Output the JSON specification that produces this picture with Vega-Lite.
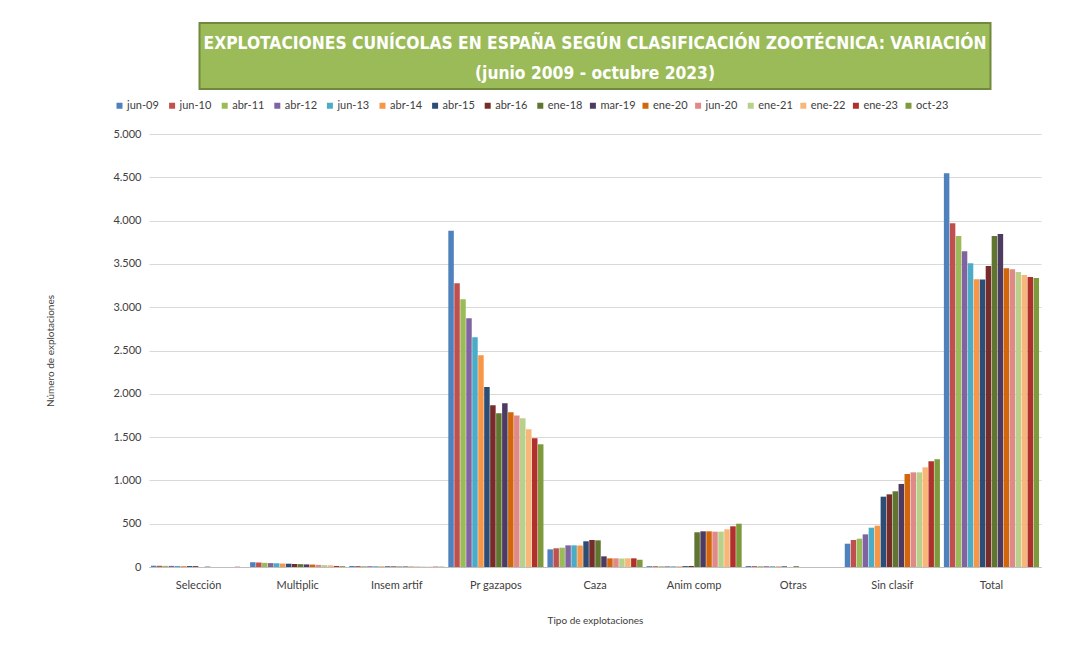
{
  "$schema": "https://vega.github.io/schema/vega-lite/v6.json",
  "background": "white",
  "padding": {"top": 22, "left": 45, "right": 30, "bottom": 10},
  "bounds": "flush",
  "center": true,
  "spacing": 45,
  "config": {
    "locale": {"number": {"decimal": ",", "thousands": ".", "grouping": [3], "currency": ["", " €"]}},
    "font": "Lato",
    "view": {"stroke": null}
  },
  "vconcat": [
    {
      "width": 791,
      "height": 66,
      "view": {"fill": "#9bbb59", "stroke": "#71893f", "strokeWidth": 2},
      "data": {"values": [{"t": "EXPLOTACIONES CUNÍCOLAS EN ESPAÑA SEGÚN CLASIFICACIÓN ZOOTÉCNICA: VARIACIÓN\n(junio 2009 - octubre 2023)"}]},
      "mark": {"type": "text", "lineBreak": "\n", "lineHeight": 30, "font": "DejaVu Sans Condensed, DejaVu Sans, sans-serif", "fontWeight": "bold", "fontSize": 17.3, "color": "white", "dy": -12},
      "encoding": {"text": {"field": "t", "type": "nominal"}}
    },
    {
      "width": 892,
      "height": 433,
      "data": {"values": [
        {"t":"Selección","p":"jun-09","v":15},{"t":"Selección","p":"jun-10","v":14},{"t":"Selección","p":"abr-11","v":13},{"t":"Selección","p":"abr-12","v":13},{"t":"Selección","p":"jun-13","v":12},{"t":"Selección","p":"abr-14","v":12},{"t":"Selección","p":"abr-15","v":11},{"t":"Selección","p":"abr-16","v":10},{"t":"Selección","p":"ene-18","v":0},{"t":"Selección","p":"mar-19","v":4},{"t":"Selección","p":"ene-20","v":0},{"t":"Selección","p":"jun-20","v":0},{"t":"Selección","p":"ene-21","v":0},{"t":"Selección","p":"ene-22","v":0},{"t":"Selección","p":"ene-23","v":3},{"t":"Selección","p":"oct-23","v":0},
        {"t":"Multiplic","p":"jun-09","v":55},{"t":"Multiplic","p":"jun-10","v":52},{"t":"Multiplic","p":"abr-11","v":48},{"t":"Multiplic","p":"abr-12","v":45},{"t":"Multiplic","p":"jun-13","v":43},{"t":"Multiplic","p":"abr-14","v":40},{"t":"Multiplic","p":"abr-15","v":38},{"t":"Multiplic","p":"abr-16","v":35},{"t":"Multiplic","p":"ene-18","v":33},{"t":"Multiplic","p":"mar-19","v":30},{"t":"Multiplic","p":"ene-20","v":28},{"t":"Multiplic","p":"jun-20","v":25},{"t":"Multiplic","p":"ene-21","v":22},{"t":"Multiplic","p":"ene-22","v":20},{"t":"Multiplic","p":"ene-23","v":12},{"t":"Multiplic","p":"oct-23","v":10},
        {"t":"Insem artif","p":"jun-09","v":12},{"t":"Insem artif","p":"jun-10","v":11},{"t":"Insem artif","p":"abr-11","v":10},{"t":"Insem artif","p":"abr-12","v":9},{"t":"Insem artif","p":"jun-13","v":9},{"t":"Insem artif","p":"abr-14","v":8},{"t":"Insem artif","p":"abr-15","v":8},{"t":"Insem artif","p":"abr-16","v":7},{"t":"Insem artif","p":"ene-18","v":6},{"t":"Insem artif","p":"mar-19","v":6},{"t":"Insem artif","p":"ene-20","v":5},{"t":"Insem artif","p":"jun-20","v":5},{"t":"Insem artif","p":"ene-21","v":5},{"t":"Insem artif","p":"ene-22","v":4},{"t":"Insem artif","p":"ene-23","v":4},{"t":"Insem artif","p":"oct-23","v":4},
        {"t":"Pr gazapos","p":"jun-09","v":3884},{"t":"Pr gazapos","p":"jun-10","v":3277},{"t":"Pr gazapos","p":"abr-11","v":3092},{"t":"Pr gazapos","p":"abr-12","v":2872},{"t":"Pr gazapos","p":"jun-13","v":2653},{"t":"Pr gazapos","p":"abr-14","v":2445},{"t":"Pr gazapos","p":"abr-15","v":2079},{"t":"Pr gazapos","p":"abr-16","v":1867},{"t":"Pr gazapos","p":"ene-18","v":1775},{"t":"Pr gazapos","p":"mar-19","v":1891},{"t":"Pr gazapos","p":"ene-20","v":1787},{"t":"Pr gazapos","p":"jun-20","v":1748},{"t":"Pr gazapos","p":"ene-21","v":1717},{"t":"Pr gazapos","p":"ene-22","v":1590},{"t":"Pr gazapos","p":"ene-23","v":1486},{"t":"Pr gazapos","p":"oct-23","v":1417},
        {"t":"Caza","p":"jun-09","v":204},{"t":"Caza","p":"jun-10","v":216},{"t":"Caza","p":"abr-11","v":223},{"t":"Caza","p":"abr-12","v":250},{"t":"Caza","p":"jun-13","v":250},{"t":"Caza","p":"abr-14","v":248},{"t":"Caza","p":"abr-15","v":297},{"t":"Caza","p":"abr-16","v":312},{"t":"Caza","p":"ene-18","v":308},{"t":"Caza","p":"mar-19","v":123},{"t":"Caza","p":"ene-20","v":100},{"t":"Caza","p":"jun-20","v":100},{"t":"Caza","p":"ene-21","v":98},{"t":"Caza","p":"ene-22","v":100},{"t":"Caza","p":"ene-23","v":100},{"t":"Caza","p":"oct-23","v":84},
        {"t":"Anim comp","p":"jun-09","v":10},{"t":"Anim comp","p":"jun-10","v":9},{"t":"Anim comp","p":"abr-11","v":8},{"t":"Anim comp","p":"abr-12","v":8},{"t":"Anim comp","p":"jun-13","v":8},{"t":"Anim comp","p":"abr-14","v":7},{"t":"Anim comp","p":"abr-15","v":10},{"t":"Anim comp","p":"abr-16","v":12},{"t":"Anim comp","p":"ene-18","v":401},{"t":"Anim comp","p":"mar-19","v":412},{"t":"Anim comp","p":"ene-20","v":412},{"t":"Anim comp","p":"jun-20","v":408},{"t":"Anim comp","p":"ene-21","v":408},{"t":"Anim comp","p":"ene-22","v":435},{"t":"Anim comp","p":"ene-23","v":470},{"t":"Anim comp","p":"oct-23","v":500},
        {"t":"Otras","p":"jun-09","v":12},{"t":"Otras","p":"jun-10","v":10},{"t":"Otras","p":"abr-11","v":10},{"t":"Otras","p":"abr-12","v":9},{"t":"Otras","p":"jun-13","v":9},{"t":"Otras","p":"abr-14","v":8},{"t":"Otras","p":"abr-15","v":8},{"t":"Otras","p":"abr-16","v":0},{"t":"Otras","p":"ene-18","v":9},{"t":"Otras","p":"mar-19","v":0},{"t":"Otras","p":"ene-20","v":0},{"t":"Otras","p":"jun-20","v":0},{"t":"Otras","p":"ene-21","v":0},{"t":"Otras","p":"ene-22","v":0},{"t":"Otras","p":"ene-23","v":0},{"t":"Otras","p":"oct-23","v":0},
        {"t":"Sin clasif","p":"jun-09","v":269},{"t":"Sin clasif","p":"jun-10","v":312},{"t":"Sin clasif","p":"abr-11","v":327},{"t":"Sin clasif","p":"abr-12","v":377},{"t":"Sin clasif","p":"jun-13","v":454},{"t":"Sin clasif","p":"abr-14","v":477},{"t":"Sin clasif","p":"abr-15","v":812},{"t":"Sin clasif","p":"abr-16","v":839},{"t":"Sin clasif","p":"ene-18","v":874},{"t":"Sin clasif","p":"mar-19","v":959},{"t":"Sin clasif","p":"ene-20","v":1074},{"t":"Sin clasif","p":"jun-20","v":1093},{"t":"Sin clasif","p":"ene-21","v":1093},{"t":"Sin clasif","p":"ene-22","v":1151},{"t":"Sin clasif","p":"ene-23","v":1221},{"t":"Sin clasif","p":"oct-23","v":1244},
        {"t":"Total","p":"jun-09","v":4547},{"t":"Total","p":"jun-10","v":3970},{"t":"Total","p":"abr-11","v":3823},{"t":"Total","p":"abr-12","v":3646},{"t":"Total","p":"jun-13","v":3508},{"t":"Total","p":"abr-14","v":3323},{"t":"Total","p":"abr-15","v":3320},{"t":"Total","p":"abr-16","v":3477},{"t":"Total","p":"ene-18","v":3823},{"t":"Total","p":"mar-19","v":3846},{"t":"Total","p":"ene-20","v":3450},{"t":"Total","p":"jun-20","v":3438},{"t":"Total","p":"ene-21","v":3407},{"t":"Total","p":"ene-22","v":3373},{"t":"Total","p":"ene-23","v":3350},{"t":"Total","p":"oct-23","v":3338}
      ]},
      "mark": {"type": "bar"},
      "encoding": {
        "x": {
          "field": "t", "type": "nominal",
          "sort": ["Selección", "Multiplic", "Insem artif", "Pr gazapos", "Caza", "Anim comp", "Otras", "Sin clasif", "Total"],
          "scale": {"paddingInner": 0.04, "paddingOuter": 0.02},
          "axis": {"title": "Tipo de explotaciones", "labelAngle": 0, "ticks": false, "domainColor": "#bfbfbf", "labelFontSize": 11, "labelColor": "#404040", "labelPadding": 12, "titleFontSize": 10, "titleFontWeight": "normal", "titleColor": "#404040", "titlePadding": 25}
        },
        "xOffset": {
          "field": "p", "type": "nominal",
          "sort": ["jun-09", "jun-10", "abr-11", "abr-12", "jun-13", "abr-14", "abr-15", "abr-16", "ene-18", "mar-19", "ene-20", "jun-20", "ene-21", "ene-22", "ene-23", "oct-23"],
          "scale": {"paddingInner": 0.08}
        },
        "y": {
          "field": "v", "type": "quantitative",
          "scale": {"domain": [0, 5000]},
          "axis": {"values": [0, 500, 1000, 1500, 2000, 2500, 3000, 3500, 4000, 4500, 5000], "format": ",d", "title": "Número de explotaciones", "domain": false, "ticks": false, "gridColor": "#d9d9d9", "labelFontSize": 11, "labelColor": "#404040", "labelPadding": 8, "titleFontSize": 10, "titleFontWeight": "normal", "titleColor": "#404040", "titlePadding": 57}
        },
        "color": {
          "field": "p", "type": "nominal",
          "scale": {
            "domain": ["jun-09", "jun-10", "abr-11", "abr-12", "jun-13", "abr-14", "abr-15", "abr-16", "ene-18", "mar-19", "ene-20", "jun-20", "ene-21", "ene-22", "ene-23", "oct-23"],
            "range": ["#4f81bd", "#c0504d", "#9bbb59", "#8064a2", "#4bacc6", "#f79646", "#2c4d75", "#772c2a", "#5f7530", "#4d3b62", "#d2660a", "#df8a88", "#b8d08a", "#f8b679", "#b0302c", "#7d9a3c"]
          },
          "legend": {"orient": "none", "legendX": -35, "legendY": 77, "direction": "horizontal", "columns": 16, "title": null, "symbolType": "square", "symbolSize": 36, "symbolStrokeWidth": 0, "labelFontSize": 11, "labelColor": "#404040", "labelOffset": 2, "columnPadding": 3.6, "gridAlign": "all"}
        }
      }
    }
  ]
}
